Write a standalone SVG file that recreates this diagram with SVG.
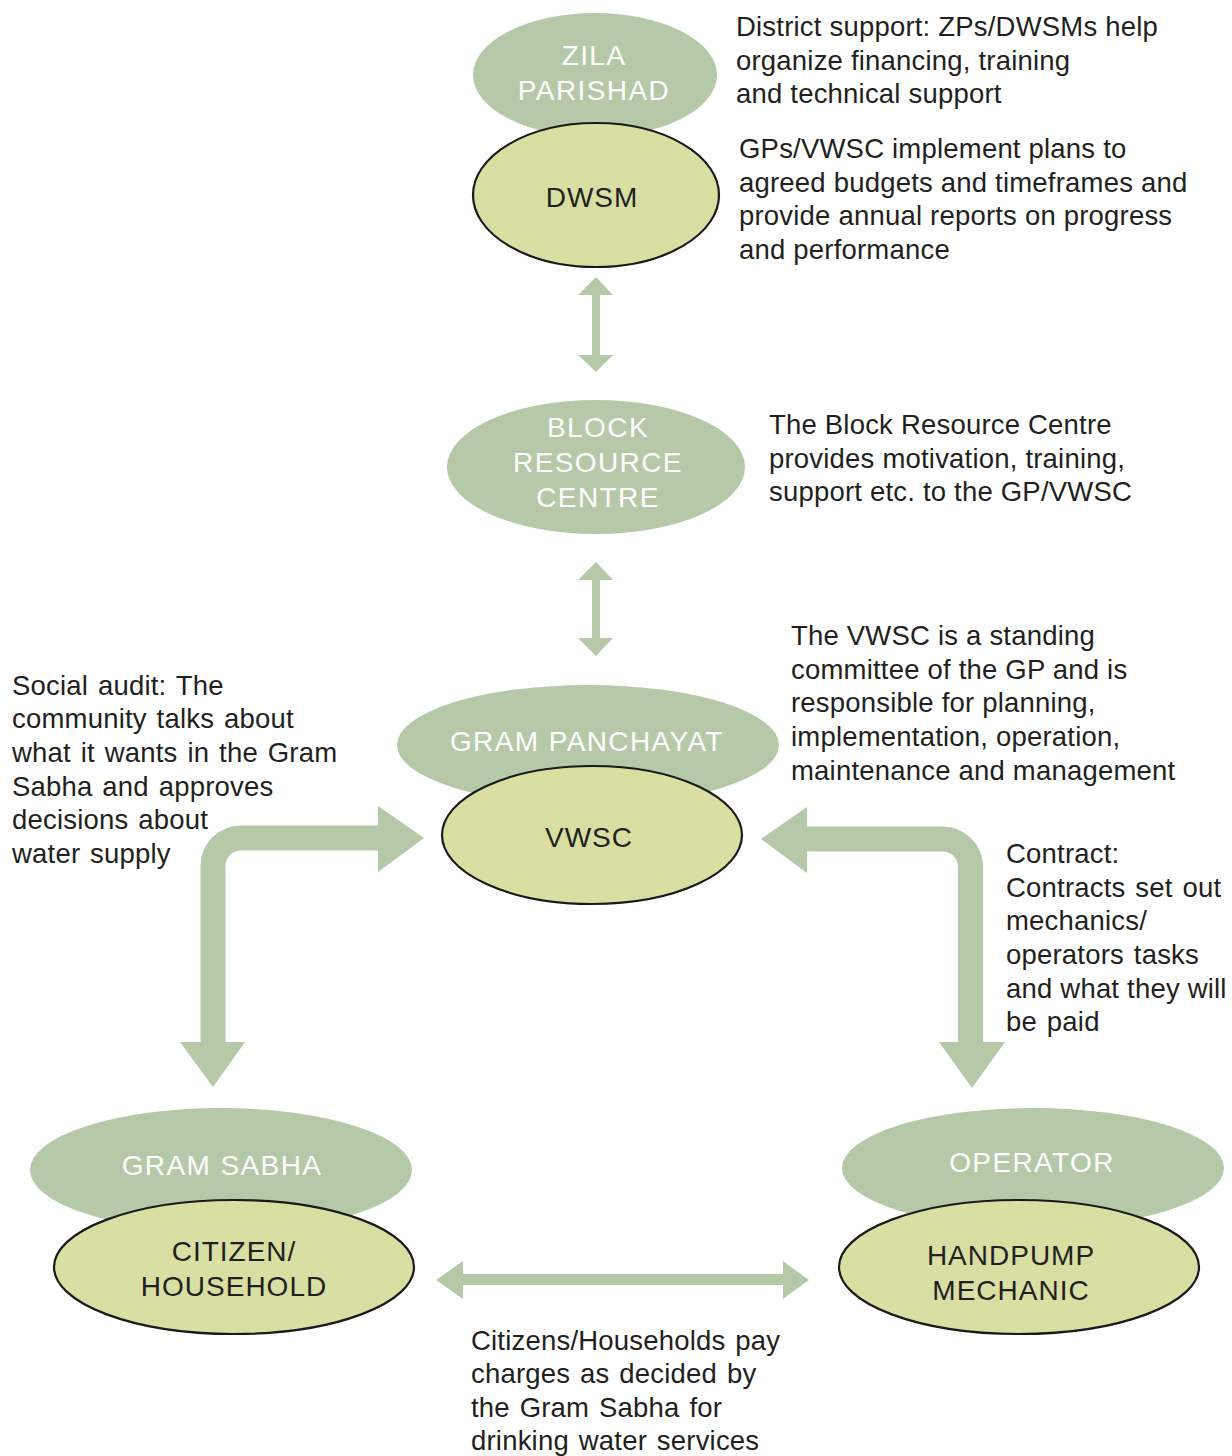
<svg xmlns="http://www.w3.org/2000/svg" width="1232" height="1456" viewBox="0 0 1232 1456">
<style>
.outer{fill:#b5c9a8}
.inner{fill:#d9dfa3;stroke:#1a1a1a;stroke-width:2.2}
.lw{font-family:"Liberation Sans",Arial,sans-serif;font-size:28px;letter-spacing:1.4px;fill:#ffffff;text-anchor:middle}
.ld{font-family:"Liberation Sans",Arial,sans-serif;font-size:28px;letter-spacing:1px;fill:#231f20;text-anchor:middle}
.t{font-family:"Liberation Sans",Arial,sans-serif;font-size:27.5px;letter-spacing:0.2px;fill:#231f20}
.ws{word-spacing:2px}
.bar{fill:none;stroke:#b5c9a8}
.head{fill:#b5c9a8}
</style>
<rect width="1232" height="1456" fill="#ffffff"/>
<g id="connectors">
<line class="bar" x1="596" y1="292" x2="596" y2="358" stroke-width="8"/>
<polygon class="head" points="596,277 613,295 578,295"/>
<polygon class="head" points="596,372 613,355 578,355"/>
<line class="bar" x1="596" y1="577" x2="596" y2="642" stroke-width="8"/>
<polygon class="head" points="596,562 613,580 578,580"/>
<polygon class="head" points="596,656 613,638 578,638"/>
<path class="bar" d="M213 1045 V866 A28 28 0 0 1 241 838 H380" stroke-width="25"/>
<polygon class="head" points="378,806 424,838 378,872"/>
<polygon class="head" points="180,1042 245,1042 213,1087"/>
<path class="bar" d="M970.5 1045 V866 A28 28 0 0 0 942.5 839 H805" stroke-width="25"/>
<polygon class="head" points="807,807 761,839 807,873"/>
<polygon class="head" points="939,1042 1005,1042 972,1088"/>
<line class="bar" x1="460" y1="1279.5" x2="786" y2="1279.5" stroke-width="11"/>
<polygon class="head" points="436,1280 463,1261 463,1299"/>
<polygon class="head" points="809,1280 783,1261 783,1299"/>
</g>
<g id="zila-dwsm">
<ellipse class="outer" cx="595" cy="75" rx="122" ry="62"/>
<text class="lw" x="594" y="65">ZILA</text>
<text class="lw" x="594" y="100">PARISHAD</text>
<ellipse class="inner" cx="596" cy="195" rx="123" ry="72"/>
<text class="ld" x="592" y="207">DWSM</text>
</g>
<g id="block">
<ellipse class="outer" cx="596" cy="467" rx="149" ry="67"/>
<text class="lw" x="598" y="437">BLOCK</text>
<text class="lw" x="598" y="472">RESOURCE</text>
<text class="lw" x="598" y="507">CENTRE</text>
</g>
<g id="gp-vwsc">
<ellipse class="outer" cx="588" cy="745" rx="191" ry="60"/>
<text class="lw" x="587" y="751">GRAM PANCHAYAT</text>
<ellipse class="inner" cx="592" cy="835" rx="150" ry="69"/>
<text class="ld" x="589" y="847">VWSC</text>
</g>
<g id="sabha-citizen">
<ellipse class="outer" cx="221" cy="1170" rx="191" ry="62"/>
<text class="lw" x="222" y="1175">GRAM SABHA</text>
<ellipse class="inner" cx="234" cy="1267" rx="180" ry="67"/>
<text class="ld" x="234" y="1261">CITIZEN/</text>
<text class="ld" x="234" y="1296">HOUSEHOLD</text>
</g>
<g id="operator-mechanic">
<ellipse class="outer" cx="1033" cy="1168" rx="191" ry="60"/>
<text class="lw" x="1032" y="1172">OPERATOR</text>
<ellipse class="inner" cx="1019" cy="1267" rx="180" ry="67"/>
<text class="ld" x="1011" y="1265">HANDPUMP</text>
<text class="ld" x="1011" y="1300">MECHANIC</text>
</g>
<g id="notes">
<text class="t" x="736" y="36">District support: ZPs/DWSMs help</text>
<text class="t" x="736" y="70">organize financing, training</text>
<text class="t" x="736" y="103">and technical support</text>
<text class="t" x="739" y="158">GPs/VWSC implement plans to</text>
<text class="t" x="739" y="192">agreed budgets and timeframes and</text>
<text class="t" x="739" y="225">provide annual reports on progress</text>
<text class="t" x="739" y="259">and performance</text>
<text class="t" x="769" y="434">The Block Resource Centre</text>
<text class="t" x="769" y="468">provides motivation, training,</text>
<text class="t" x="769" y="501">support etc. to the GP/VWSC</text>
<text class="t" x="791" y="645">The VWSC is a standing</text>
<text class="t" x="791" y="679">committee of the GP and is</text>
<text class="t" x="791" y="712">responsible for planning,</text>
<text class="t" x="791" y="746">implementation, operation,</text>
<text class="t" x="791" y="780">maintenance and management</text>
<text class="t ws" x="12" y="695">Social audit: The</text>
<text class="t ws" x="12" y="728">community talks about</text>
<text class="t ws" x="12" y="762">what it wants in the Gram</text>
<text class="t ws" x="12" y="796">Sabha and approves</text>
<text class="t ws" x="12" y="829">decisions about</text>
<text class="t ws" x="12" y="863">water supply</text>
<text class="t ws" x="1006" y="863">Contract:</text>
<text class="t ws" x="1006" y="897">Contracts set out</text>
<text class="t ws" x="1006" y="930">mechanics/</text>
<text class="t ws" x="1006" y="964">operators tasks</text>
<text class="t" x="1006" y="998">and what they will</text>
<text class="t ws" x="1006" y="1031">be paid</text>
<text class="t ws" x="471" y="1350">Citizens/Households pay</text>
<text class="t ws" x="471" y="1383">charges as decided by</text>
<text class="t ws" x="471" y="1417">the Gram Sabha for</text>
<text class="t ws" x="471" y="1450">drinking water services</text>
</g>
</svg>
